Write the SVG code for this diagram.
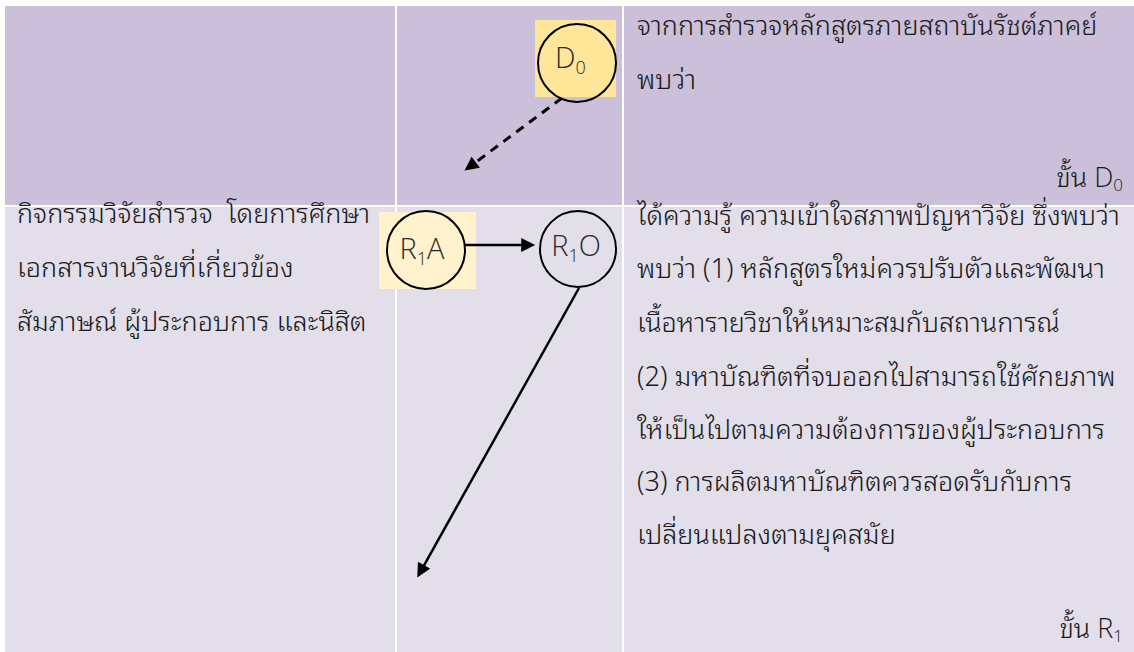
<svg xmlns="http://www.w3.org/2000/svg" width="1134" height="652" viewBox="0 0 1134 652">
<style>
.top{fill:#CBBFD9}
.bot{fill:#E2DEEA}
.th{font-family:"Noto Sans Thai Looped","Noto Serif Thai","Noto Sans Thai","Noto Sans",sans-serif;font-size:27px;font-weight:300;fill:#1a1a1a}
.lbl{font-family:"Open Sans","Liberation Sans",sans-serif;font-weight:300;font-size:29px;fill:#2a2a2a}
.sub{font-size:18px}
.tsub{font-size:17px;font-family:"Open Sans","Liberation Sans",sans-serif;font-weight:300}
.tl{font-family:"Open Sans","Liberation Sans",sans-serif;font-weight:300}
.circ{fill:none;stroke:#000;stroke-width:2}
.conn{stroke:#000;stroke-width:2.5;fill:none}
</style>
<defs>
<marker id="ah" viewBox="0 0 10 10" refX="7" refY="5" markerWidth="16" markerHeight="14" markerUnits="userSpaceOnUse" orient="auto">
<path d="M0,0 L10,5 L0,10 z" fill="#000"/>
</marker>
</defs>
<rect width="1134" height="652" fill="#fff"/>
<g id="table">
<rect class="top" x="5" y="6" width="390" height="199"/>
<rect class="top" x="397" y="6" width="225" height="199"/>
<rect class="top" x="624" y="6" width="510" height="199"/>
<rect class="bot" x="5" y="207" width="390" height="445"/>
<rect class="bot" x="397" y="207" width="225" height="445"/>
<rect class="bot" x="624" y="207" width="510" height="445"/>
</g>
<g id="text-d0">
<text class="th" x="637" y="35">จากการสำรวจหลักสูตรภายสถาบันรัชต์ภาคย์</text>
<text class="th" x="637" y="89">พบว่า</text>
<text class="th" x="1123" y="187" text-anchor="end">ขั้น <tspan class="tl">D</tspan><tspan class="tsub" dy="4">0</tspan></text>
</g>
<g id="text-r1-left">
<text class="th" x="17" y="223">กิจกรรมวิจัยสำรวจ&#160; โดยการศึกษา</text>
<text class="th" x="17" y="277">เอกสารงานวิจัยที่เกี่ยวข้อง</text>
<text class="th" x="17" y="331">สัมภาษณ์ ผู้ประกอบการ และนิสิต</text>
</g>
<g id="text-r1-right">
<text class="th" x="637" y="225">ได้ความรู้ ความเข้าใจสภาพปัญหาวิจัย ซึ่งพบว่า</text>
<text class="th" x="637" y="278">พบว่า (1) หลักสูตรใหม่ควรปรับตัวและพัฒนา</text>
<text class="th" x="637" y="332">เนื้อหารายวิชาให้เหมาะสมกับสถานการณ์</text>
<text class="th" x="637" y="386">(2) มหาบัณฑิตที่จบออกไปสามารถใช้ศักยภาพ</text>
<text class="th" x="637" y="439">ให้เป็นไปตามความต้องการของผู้ประกอบการ</text>
<text class="th" x="637" y="491">(3) การผลิตมหาบัณฑิตควรสอดรับกับการ</text>
<text class="th" x="637" y="544">เปลี่ยนแปลงตามยุคสมัย</text>
<text class="th" x="1123" y="638" text-anchor="end">ขั้น <tspan class="tl">R</tspan><tspan class="tsub" dy="4">1</tspan></text>
</g>
<g id="node-D0">
<rect x="535" y="20" width="81" height="77" fill="#FFE699"/>
<circle class="circ" cx="577" cy="63" r="39"/>
<text class="lbl" x="555" y="68">D<tspan class="sub" dy="6">0</tspan></text>
</g>
<g id="node-R1A">
<rect x="379" y="212" width="97" height="77" fill="#FFF2CC"/>
<circle class="circ" cx="426" cy="250" r="39"/>
<text class="lbl" x="422" y="259" text-anchor="middle">R<tspan class="sub" dy="6">1</tspan><tspan dy="-6">A</tspan></text>
</g>
<g id="node-R1O">
<circle class="circ" cx="578" cy="249" r="38"/>
<text class="lbl" x="576" y="256" text-anchor="middle">R<tspan class="sub" dy="6">1</tspan><tspan dy="-6">O</tspan></text>
</g>
<g id="connectors">
<line class="conn" x1="562" y1="98" x2="467.9" y2="168.1" stroke-dasharray="9,7" marker-end="url(#ah)" style="stroke-width:3"/>
<line class="conn" x1="465" y1="245" x2="531" y2="245" marker-end="url(#ah)"/>
<line class="conn" x1="579" y1="288" x2="419.3" y2="573.8" marker-end="url(#ah)"/>
</g>
</svg>
